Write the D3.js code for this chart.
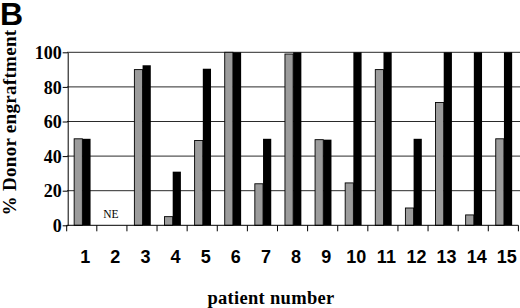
<!DOCTYPE html>
<html>
<head>
<meta charset="utf-8">
<script src="https://cdn.jsdelivr.net/npm/d3@7"></script>
<style>
  body { margin: 0; background: #fff; }
  svg { display: block; }
</style>
</head>
<body>
<svg width="520" height="308"></svg>
<script>
// patients on the x axis
var patients = ["1","2","3","4","5","6","7","8","9","10","11","12","13","14","15"];
var series = ["grey", "black"];
// % donor engraftment, null = not evaluable (NE)
var greyValues  = [50, null, 90, 5, 49, 100, 24, 99, 49.5, 24.5, 90, 10, 71, 6, 50];
var blackValues = [50, null, 92.5, 31, 90.5, 100, 50, 100, 49.5, 100, 100, 50, 100, 100, 100];
var yTicks = [0, 20, 40, 60, 80, 100];

var colors = {grey: "#9c9c9c", black: "#000"};

var svg = d3.select("svg");

var x = d3.scaleBand().domain(patients).range([66.7, 518.4]).padding(0);
var bw = x.bandwidth();
var xs = d3.scaleBand().domain(series).range([bw / 2 - 7.6, bw / 2 + 8.8]);
var y = d3.scaleLinear().domain([0, 100]).range([225.3, 52.3]);

// gridlines
svg.append("g")
  .selectAll("line")
  .data(yTicks.filter(function(t) { return t > 0; }))
  .enter().append("line")
  .attr("x1", 67).attr("x2", 520)
  .attr("y1", function(d) { return y(d); })
  .attr("y2", function(d) { return y(d); })
  .attr("stroke", "#2a2a2a")
  .attr("stroke-width", 1);

// bars
var rows = patients.map(function(p, i) {
  return {patient: p, grey: greyValues[i], black: blackValues[i]};
});

var group = svg.selectAll(".grp")
  .data(rows)
  .enter().append("g")
  .attr("class", "grp")
  .attr("transform", function(d) { return "translate(" + x(d.patient) + ",0)"; });

group.selectAll("rect")
  .data(function(d) {
    return series.filter(function(s) { return d[s] != null; })
      .map(function(s) { return {key: s, value: d[s]}; });
  })
  .enter().append("rect")
  .attr("x", function(d) { return xs(d.key); })
  .attr("width", xs.bandwidth())
  .attr("y", function(d) { return y(d.value); })
  .attr("height", function(d) { return y(0) - y(d.value); })
  .attr("fill", function(d) { return colors[d.key]; })
  .attr("stroke", "#000")
  .attr("stroke-width", function(d) { return d.key == "grey" ? 0.9 : 0; });

// NE label for patients without a value
group.filter(function(d) { return d.grey == null && d.black == null; })
  .append("text")
  .attr("x", bw / 2 - 1)
  .attr("y", 217.5)
  .attr("text-anchor", "middle")
  .style("font-family", "'Liberation Serif', serif")
  .style("font-size", "11.5px")
  .text("NE");

// y axis
var yAxis = svg.append("g")
  .attr("transform", "translate(67.7,0)")
  .call(d3.axisLeft(y).tickValues(yTicks).tickSizeInner(5).tickSizeOuter(0).tickPadding(1));
yAxis.selectAll("text")
  .style("font-family", "'Liberation Serif', serif")
  .style("font-weight", "bold")
  .style("font-size", "18px")
  .attr("dy", "0.34em")
  .attr("fill", "#000");
yAxis.selectAll("line,path").attr("stroke", "#000");

// x axis: ticks on the band boundaries
var xAxis = svg.append("g").attr("transform", "translate(0," + y(0) + ")");
xAxis.append("line")
  .attr("x1", x.range()[0]).attr("x2", x.range()[1])
  .attr("stroke", "#000");
var bounds = patients.map(function(p) { return x(p); }).concat([x.range()[1]]);
xAxis.selectAll(".tick")
  .data(bounds)
  .enter().append("line")
  .attr("x1", function(d) { return d; }).attr("x2", function(d) { return d; })
  .attr("y1", 0).attr("y2", 6)
  .attr("stroke", "#000");
xAxis.selectAll(".lbl")
  .data(patients)
  .enter().append("text")
  .attr("x", function(d) { return x(d) + bw / 2 + 3.5; })
  .attr("y", 37.7)
  .attr("text-anchor", "middle")
  .style("font-family", "'Liberation Sans', Arial, sans-serif")
  .style("font-weight", "bold")
  .style("font-size", "18px")
  .text(function(d) { return d; });

// axis titles
svg.append("text")
  .attr("x", 271)
  .attr("y", 303.5)
  .attr("text-anchor", "middle")
  .style("font-family", "'Liberation Serif', serif")
  .style("font-weight", "bold")
  .style("font-size", "18.5px")
  .style("letter-spacing", "0.3px")
  .text("patient number");

svg.append("text")
  .attr("transform", "translate(15.5,122.5) rotate(-90)")
  .attr("text-anchor", "middle")
  .style("font-family", "'Liberation Serif', serif")
  .style("font-weight", "bold")
  .style("font-size", "19px")
  .style("letter-spacing", "0.3px")
  .text("% Donor engraftment");

// panel letter
svg.append("text")
  .attr("x", 0)
  .attr("y", 25)
  .style("font-family", "'Liberation Sans', Arial, sans-serif")
  .style("font-weight", "bold")
  .style("font-size", "32px")
  .text("B");
</script>
</body>
</html>
